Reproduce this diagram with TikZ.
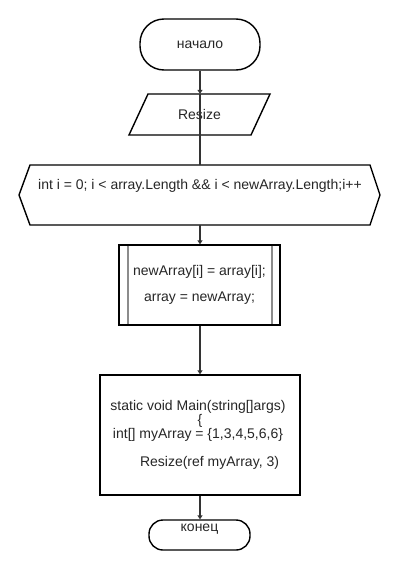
\documentclass[tikz,border=0pt]{standalone}
\usepackage{fontspec}
\setmainfont{Liberation Sans}
\usetikzlibrary{arrows.meta}
\tikzset{
  shapeline/.style={draw=black, line width=1.4pt},
  conn/.style={draw=black!80, line width=1.2pt},
  arr/.style={conn, -{Triangle[length=4pt,width=5pt]}},
  txt/.style={inner sep=0pt, font=\fontsize{14}{16}\selectfont, text=black!85},
  box/.style={inner sep=0pt, draw=none}
}
\begin{document}
\begin{tikzpicture}[x=1pt,y=-1pt]
\useasboundingbox (0,0) rectangle (400,570);
% start terminal
\node[box, shapeline, rounded corners=24pt, minimum width=120pt, minimum height=51pt] (start) at (200,44.5) {};
\node[txt] (starttxt) at (200,44.5) {начало};
% Resize parallelogram
\node[box, minimum width=141pt, minimum height=41pt] (resize) at (200,114.5) {};
\draw[shapeline, line join=miter] (129,135) -- (251,135) -- (270,94) -- (148,94) -- cycle;
\node[txt] (resizetxt) at (199.5,114.5) {Resize};
% loop hexagon
\node[box, minimum width=361pt, minimum height=60pt] (hex) at (200,195) {};
\draw[shapeline, line join=miter] (19,195) -- (30,165) -- (370,165) -- (380,195) -- (370,225) -- (30,225) -- cycle;
\node[txt] (hextxt) at (200,185.5) {int i = 0; i < array.Length \&\& i < newArray.Length;i++};
% subprocess
\node[box, shapeline, minimum width=161pt, minimum height=80pt] (sub) at (199.5,285) {};
\draw[draw=black!45, line width=1.3pt] (128,245.7) -- (128,324.3) (272,245.7) -- (272,324.3);
\node[txt] (sub1) at (199.5,272) {newArray[i] = array[i];};
\node[txt] (sub2) at (199.5,298) {array = newArray;};
% main box
\node[box, shapeline, minimum width=200pt, minimum height=120pt] (main) at (200,435) {};
\node[txt] (m1) at (198,407) {static void Main(string[]args)};
\node[txt] (m2) at (200,421) {\{};
\node[txt] (m3) at (198,435) {int[] myArray = \{1,3,4,5,6,6\}};
\node[txt] (m4) at (209.5,463) {Resize(ref myArray, 3)};
% end terminal
\node[box, shapeline, rounded corners=14pt, minimum width=101pt, minimum height=30pt] (end) at (199.5,535) {};
\node[txt] (endtxt) at (199.5,529.5) {конец};
% connectors
\draw[arr] (start.south) -- (resize.north);
\draw[conn] (resize.north) -- (hex.north);
\draw[arr] (hex.south) -- (sub.north -| hex.south);
\draw[arr] (sub.south -| hex.south) -- (main.north);
\draw[arr] (main.south) -- (end.north -| main.south);
\end{tikzpicture}
\end{document}
